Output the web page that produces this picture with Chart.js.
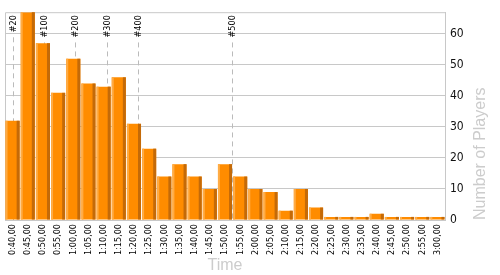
<!DOCTYPE html>
<html>
<head>
<meta charset="utf-8">
<script src="https://cdn.jsdelivr.net/npm/chart.js@4/dist/chart.umd.min.js"></script>
<style>
  body { margin: 0; background: #fff; }
  #wrap { width: 500px; height: 275px; }
</style>
</head>
<body>
<div id="wrap"><canvas id="chart" width="500" height="275"></canvas></div>
<script>
const times = [
  "0:40,00", "0:45,00", "0:50,00", "0:55,00", "1:00,00", "1:05,00", "1:10,00", "1:15,00",
  "1:20,00", "1:25,00", "1:30,00", "1:35,00", "1:40,00", "1:45,00", "1:50,00", "1:55,00",
  "2:00,00", "2:05,00", "2:10,00", "2:15,00", "2:20,00", "2:25,00", "2:30,00", "2:35,00",
  "2:40,00", "2:45,00", "2:50,00", "2:55,00", "3:00,00"
];
const players = [32, 67, 57, 41, 52, 44, 43, 46, 31, 23, 14, 18, 14, 10, 18, 14, 10, 9, 3, 10, 4, 1, 1, 1, 2, 1, 1, 1, 1];

// rank markers, position given in category units (index along the time axis)
const rankLabels = ["#20", "#100", "#200", "#300", "#400", "#500"];
const rankAt = [0, 2.04, 4.13, 6.24, 8.29, 14.48];

const yTicks = [0, 10, 20, 30, 40, 50, 60];
const yMax = 67;

const gridColor = "#c8c8c8";
const smallFont = "'DejaVu Sans Condensed', 'DejaVu Sans', sans-serif";

// plot frame, dashed rank lines, bar shading and y title
const extras = {
  id: "extras",
  beforeDatasetsDraw(chart) {
    const { ctx, chartArea: a, scales: { x } } = chart;
    ctx.save();
    ctx.strokeStyle = gridColor;
    ctx.lineWidth = 1;
    ctx.beginPath();
    ctx.moveTo(a.left + 0.5, a.bottom);
    ctx.lineTo(a.left + 0.5, a.top + 0.5);
    ctx.lineTo(a.right, a.top + 0.5);
    ctx.stroke();

    ctx.font = "9px " + smallFont;
    ctx.fillStyle = "#000";
    ctx.strokeStyle = "#bbb";
    ctx.setLineDash([5, 4]);
    rankLabels.forEach((lbl, i) => {
      const px = Math.round(x.getPixelForValue(rankAt[i])) + 0.5;
      const w = ctx.measureText(lbl).width;
      ctx.beginPath();
      ctx.moveTo(px, a.top + 3 + w + 5);
      ctx.lineTo(px, a.bottom);
      ctx.stroke();
      ctx.save();
      ctx.translate(px, a.top + 3);
      ctx.rotate(-Math.PI / 2);
      ctx.textAlign = "right";
      ctx.textBaseline = "middle";
      ctx.fillText(lbl, 0, 0);
      ctx.restore();
    });
    ctx.restore();
  },
  afterDatasetsDraw(chart) {
    const { ctx } = chart;
    const meta = chart.getDatasetMeta(0);
    ctx.save();
    meta.data.forEach((bar) => {
      const { x, y, base, width } = bar.getProps(["x", "y", "base", "width"], true);
      const left = x - width / 2;
      const h = base - y;
      ctx.fillStyle = "#ffac45";
      ctx.fillRect(left, y, 2, h);
      ctx.fillStyle = "#c46a08";
      ctx.fillRect(left + width - 3, y, 3, h);
    });

    const a = chart.chartArea;
    ctx.font = "16px 'Liberation Sans', Arial, sans-serif";
    ctx.fillStyle = "#cccccc";
    ctx.translate(481, a.bottom);
    ctx.rotate(-Math.PI / 2);
    ctx.textAlign = "left";
    ctx.textBaseline = "middle";
    ctx.fillText("Number of Players", 0, 0);
    ctx.restore();
  }
};

new Chart(document.getElementById("chart"), {
  type: "bar",
  data: {
    labels: times,
    datasets: [{
      data: players,
      backgroundColor: "#ff8c00",
      borderWidth: 0,
      categoryPercentage: 1,
      barPercentage: 0.93
    }]
  },
  options: {
    responsive: false,
    animation: false,
    layout: { padding: { left: 5, top: 10, right: 0, bottom: 0 } },
    plugins: { legend: { display: false }, tooltip: { enabled: false } },
    scales: {
      x: {
        grid: { display: false, drawTicks: false },
        border: { display: false },
        ticks: {
          autoSkip: false,
          minRotation: 90,
          maxRotation: 90,
          padding: 4,
          color: "#000",
          font: { family: smallFont, size: 9 }
        },
        title: {
          display: true,
          text: "Time",
          color: "#cccccc",
          padding: { top: 0, bottom: 0 },
          font: { family: "'Liberation Sans', Arial, sans-serif", size: 16 }
        },
        afterFit(scale) { scale.height = 55; }
      },
      y: {
        position: "right",
        min: 0,
        max: yMax,
        grid: { color: gridColor, drawTicks: false },
        border: { display: true, color: gridColor },
        afterBuildTicks(scale) { scale.ticks = yTicks.map((v) => ({ value: v })); },
        ticks: {
          padding: 5,
          color: "#111",
          font: { family: smallFont, size: 12 }
        },
        afterFit(scale) { scale.width = 55; }
      }
    }
  },
  plugins: [extras]
});
</script>
</body>
</html>
